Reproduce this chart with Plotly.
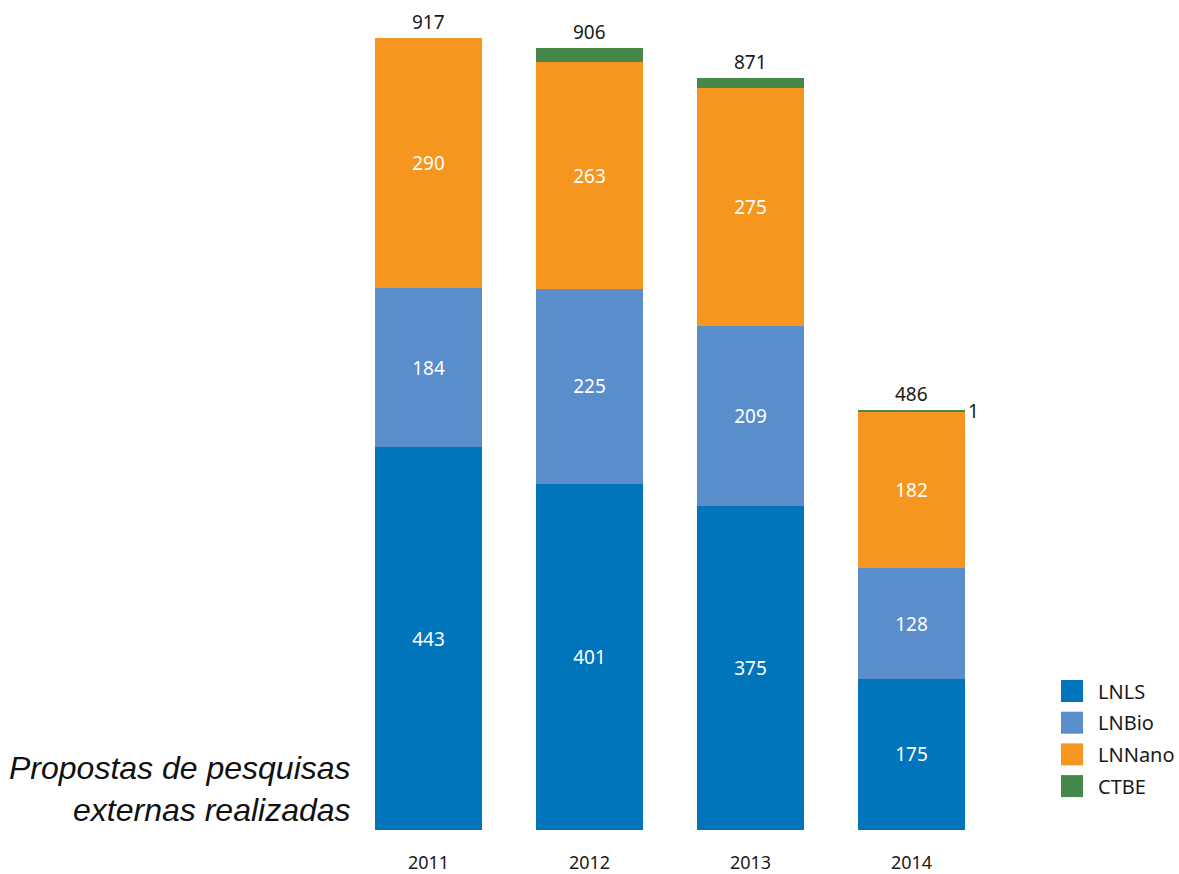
import plotly.graph_objects as go

years = ["2011", "2012", "2013", "2014"]
lnls = [443, 401, 375, 175]
lnbio = [184, 225, 209, 128]
lnnano = [290, 263, 275, 182]
ctbe = [0, 17, 12, 1]
totals = [917, 906, 871, 486]

series = [
    ("LNLS", lnls, "#0075BB"),
    ("LNBio", lnbio, "#5A8DCC"),
    ("LNNano", lnnano, "#F7961F"),
    ("CTBE", ctbe, "#45884A"),
]

W, H = 1179, 874
ML, MR, MT, MB = 348, 187, 38, 44
PW, PH = W - ML - MR, H - MT - MB
FONT = "Noto Sans"


def px_x(px):
    return (px - ML) / PW


def px_y(py):
    return (H - MB - py) / PH


fig = go.Figure()
for name, vals, color in series:
    show_text = name != "CTBE"
    fig.add_trace(go.Bar(
        x=years, y=vals, name=name, marker_color=color,
        marker_line_width=0, showlegend=False,
        text=[str(v) for v in vals] if show_text else None,
        textposition="inside" if show_text else "none",
        insidetextanchor="middle", textangle=0,
        insidetextfont=dict(color="white", size=19, family=FONT),
        hoverinfo="name+y",
    ))

# totals above each bar (category index used for x)
for i, t in enumerate(totals):
    fig.add_annotation(x=i, y=t, text=str(t), showarrow=False,
                       yanchor="bottom", yshift=1,
                       font=dict(size=19, color="#1a1a1a", family=FONT))

# small CTBE value in 2014, written beside the bar
fig.add_annotation(x=3, y=totals[3], text=str(ctbe[3]), showarrow=False,
                   xanchor="left", yanchor="middle", xshift=54, yshift=-1,
                   font=dict(size=19, color="#1a1a1a", family=FONT))

# legend: coloured squares with names
for i, (name, vals, color) in enumerate(series):
    cy = 691 + i * 31.7
    fig.add_shape(type="rect", xref="paper", yref="paper",
                  x0=px_x(1061), x1=px_x(1083), y0=px_y(cy + 11), y1=px_y(cy - 11),
                  fillcolor=color, line_width=0)
    fig.add_annotation(xref="paper", yref="paper", x=px_x(1096), y=px_y(cy),
                       text=name, showarrow=False, xanchor="left", yanchor="middle",
                       font=dict(size=20, color="#1a1a1a", family=FONT))

# caption on the left
fig.add_annotation(xref="paper", yref="paper", x=px_x(353), y=px_y(789),
                   text="<i>Propostas de pesquisas</i><br><i>externas realizadas</i>",
                   showarrow=False, xanchor="right", yanchor="middle", align="right",
                   font=dict(size=32, color="#111111", family="Liberation Sans"))

fig.update_layout(
    width=W, height=H,
    margin=dict(l=ML, r=MR, t=MT, b=MB, pad=0, autoexpand=False),
    barmode="stack", bargap=0.335,
    plot_bgcolor="white", paper_bgcolor="white",
    xaxis=dict(type="category", range=[-0.5, 3.5], automargin=False,
               showline=False, showgrid=False, zeroline=False, ticks="",
               tickfont=dict(size=18, color="#1a1a1a", family=FONT),
               ticklabelstandoff=20),
    yaxis=dict(range=[0, 917], visible=False, showgrid=False, zeroline=False,
               automargin=False),
    font=dict(family=FONT),
)

fig.write_html("out.html")
